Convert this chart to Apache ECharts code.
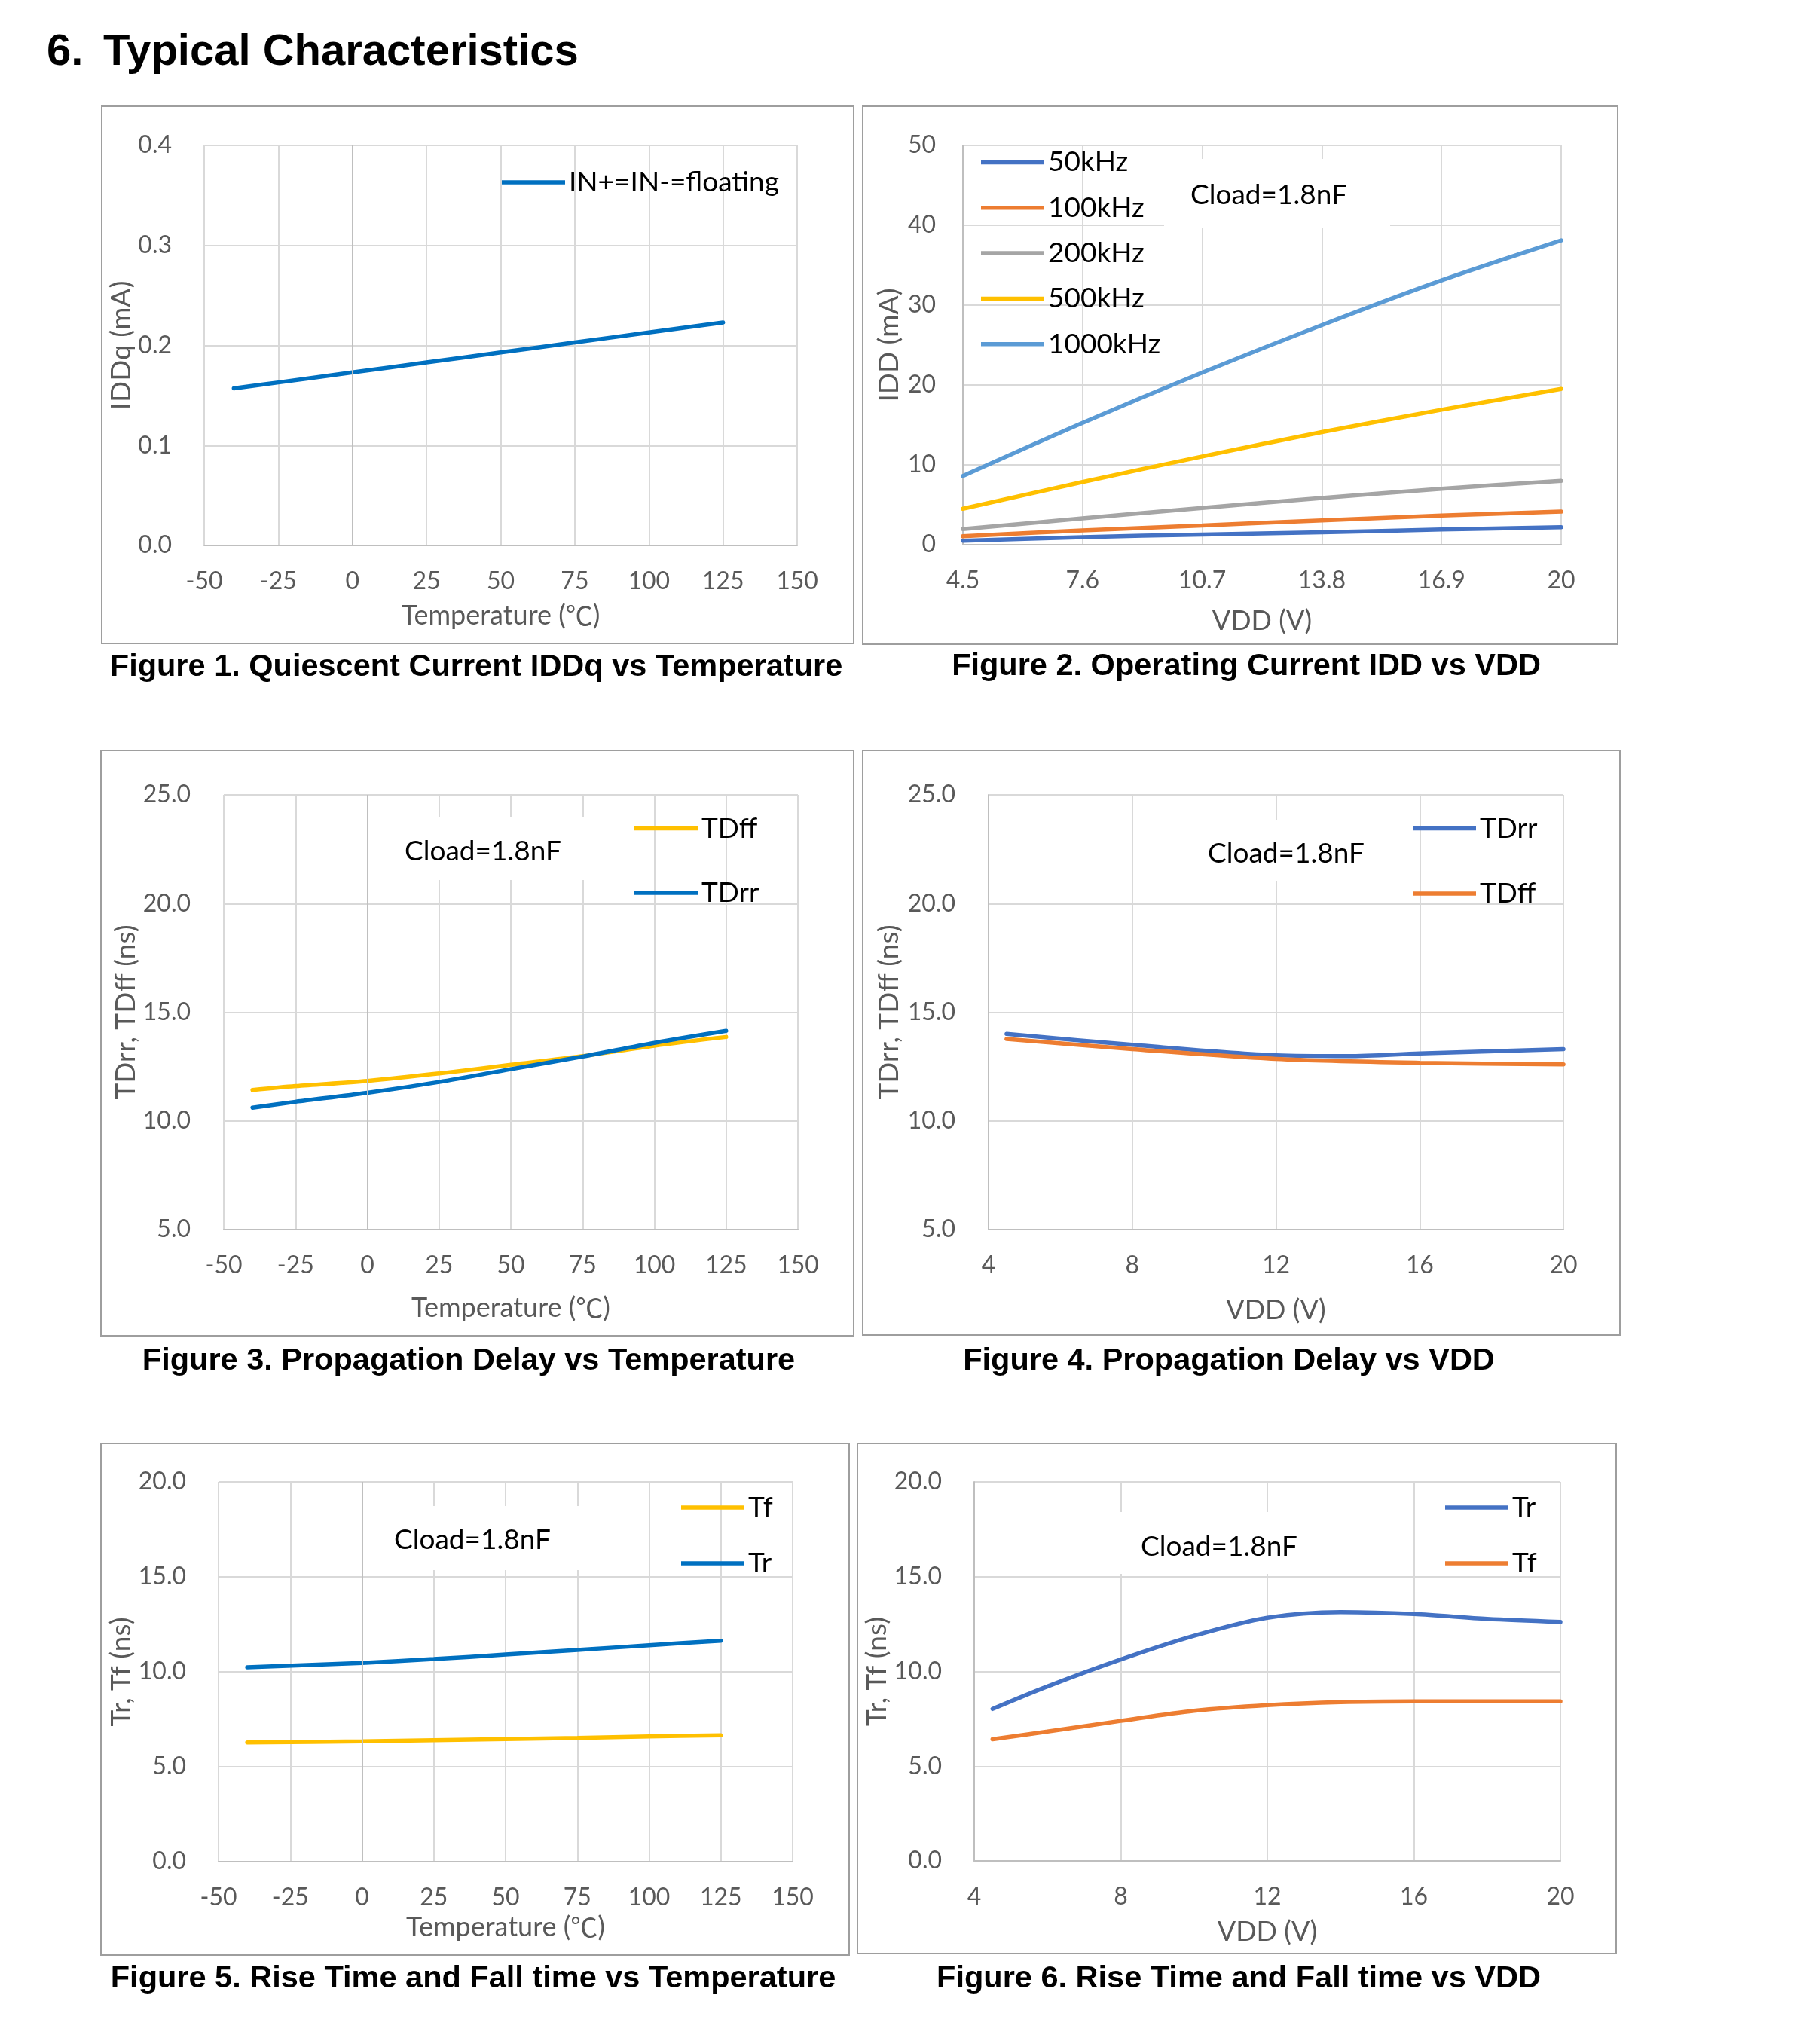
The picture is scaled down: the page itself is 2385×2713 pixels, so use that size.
<!DOCTYPE html>
<html><head><meta charset="utf-8">
<script src="https://cdn.jsdelivr.net/npm/echarts@6/dist/echarts.min.js"></script>
<style>html,body{margin:0;padding:0;background:#fff}#c{width:2385px;height:2713px}</style>
</head><body><div id="c"></div>
<script>
// ---------------- tick labels ----------------
const tempTicks = [-50, -25, 0, 25, 50, 75, 100, 125, 150];
const vddTicksFig2 = [4.5, 7.6, 10.7, 13.8, 16.9, 20];
const vddTicks = [4, 8, 12, 16, 20];
const iddqTicks = [0, 0.1, 0.2, 0.3, 0.4];
const iddTicks = [0, 10, 20, 30, 40, 50];
const tdTicks = [5, 10, 15, 20, 25];
const trTicks = [0, 5, 10, 15, 20];

// ---------------- Figure 1 ----------------
const fig1Temp = [-40, -25, 0, 25, 50, 75, 100, 125];
const fig1IDDq = [0.157, 0.163, 0.173, 0.183, 0.193, 0.203, 0.213, 0.223];

// ---------------- Figure 2 ----------------
const fig2VDD = [4.5, 7.6, 10.7, 13.8, 16.9, 20];
const fig2I50k = [0.5, 0.95, 1.28, 1.55, 1.9, 2.2];
const fig2I100k = [1.05, 1.8, 2.4, 3.05, 3.65, 4.15];
const fig2I200k = [1.95, 3.3, 4.6, 5.85, 7.0, 8.0];
const fig2I500k = [4.5, 7.85, 11.05, 14.1, 16.9, 19.5];
const fig2I1000k = [8.6, 15.25, 21.55, 27.5, 33.1, 38.1];

// ---------------- Figure 3 ----------------
const fig3Temp = [-40, -25, 0, 25, 50, 75, 100, 125];
const fig3TDff = [11.42, 11.6, 11.84, 12.18, 12.58, 12.98, 13.46, 13.86];
const fig3TDrr = [10.61, 10.88, 11.29, 11.79, 12.38, 12.96, 13.59, 14.14];

// ---------------- Figure 4 ----------------
const fig4VDDrr = [4.5, 8, 12, 14, 16, 20];
const fig4TDrr = [14.0, 13.5, 13.02, 12.98, 13.1, 13.3];
const fig4VDDff = [4.5, 8, 12, 16, 20];
const fig4TDff = [13.77, 13.3, 12.85, 12.67, 12.6];

// ---------------- Figure 5 ----------------
const fig5Temp = [-40, 0, 25, 50, 75, 100, 125];
const fig5Tr = [10.24, 10.47, 10.67, 10.91, 11.15, 11.4, 11.64];
const fig5Tf = [6.28, 6.34, 6.4, 6.46, 6.52, 6.6, 6.66];

// ---------------- Figure 6 ----------------
const fig6VDD = [4.5, 6, 8, 10, 12, 14, 16, 18, 20];
const fig6Tr = [8.02, 9.21, 10.63, 11.88, 12.83, 13.13, 13.03, 12.77, 12.61];
const fig6Tf = [6.42, 6.83, 7.39, 7.92, 8.22, 8.38, 8.42, 8.42, 8.42];

// ---------------- texts ----------------
const pageTitleNum = '6.';
const pageTitle = 'Typical Characteristics';
const captions = [
  'Figure 1. Quiescent Current IDDq vs Temperature',
  'Figure 2. Operating Current IDD vs VDD',
  'Figure 3. Propagation Delay vs Temperature',
  'Figure 4. Propagation Delay vs VDD',
  'Figure 5. Rise Time and Fall time vs Temperature',
  'Figure 6. Rise Time and Fall time vs VDD'
];
const cloadText = 'Cload=1.8nF';
const tempName = 'Temperature ({c|\u2103})';

// ================= build =================
const FONT = 'Lato, "Noto Sans CJK SC", sans-serif';
const GRAY = '#595959';
const pair = (xs, ys) => xs.map((x, i) => [x, ys[i]]);
const fmt1 = v => Number(v).toFixed(1);

const grids = [
  {left: 271, top: 193, width: 787, height: 531},
  {left: 1278, top: 193, width: 794, height: 530},
  {left: 297, top: 1055, width: 762, height: 577},
  {left: 1312, top: 1055, width: 763, height: 577},
  {left: 290, top: 1967, width: 762, height: 504},
  {left: 1293, top: 1967, width: 778, height: 503}
];

function xAx(i, ticks, name, gap, custom) {
  const a = {
    gridIndex: i, type: 'value', min: ticks[0], max: ticks[ticks.length - 1],
    name: name, nameLocation: 'middle', nameGap: gap,
    nameTextStyle: {fontFamily: FONT, fontSize: 36, color: GRAY, verticalAlign: 'middle',
      rich: {c: {fontFamily: '"Noto Sans CJK SC"', fontSize: 36, color: GRAY}}},
    axisLine: {show: true, onZero: false, lineStyle: {color: '#BFBFBF', width: 2}},
    axisTick: {show: false},
    axisLabel: {fontFamily: FONT, fontSize: 32, color: GRAY, margin: 48, verticalAlign: 'middle'},
    splitLine: {show: true, lineStyle: {color: '#D9D9D9', width: 2}}
  };
  if (custom) {
    a.axisTick.customValues = ticks;
    a.axisLabel.customValues = ticks;
  } else {
    a.interval = ticks[1] - ticks[0];
  }
  return a;
}
function yAx(i, ticks, name, gap, margin, formatter, showLine) {
  return {
    gridIndex: i, type: 'value', min: ticks[0], max: ticks[ticks.length - 1],
    interval: ticks[1] - ticks[0],
    name: name, nameLocation: 'middle', nameGap: gap,
    nameTextStyle: {fontFamily: FONT, fontSize: 37, color: GRAY, verticalAlign: 'middle'},
    axisLine: {show: !!showLine, onZero: false, lineStyle: {color: '#BFBFBF', width: 2}},
    axisTick: {show: false},
    axisLabel: {fontFamily: FONT, fontSize: 32, color: GRAY, margin: margin, formatter: formatter},
    splitLine: {show: true, lineStyle: {color: '#D9D9D9', width: 2}}
  };
}
function line(i, name, xs, ys, color) {
  return {
    type: 'line', name: name, xAxisIndex: i, yAxisIndex: i,
    data: pair(xs, ys), smooth: 0.3, symbol: 'none', showSymbol: false,
    lineStyle: {width: 5.5, color: color, cap: 'round'}, itemStyle: {color: color},
    z: 3, animation: false
  };
}
function zeroLine(i) {
  return {
    type: 'line', name: 'zero-axis-' + i, xAxisIndex: i, yAxisIndex: i, data: [], z: 1,
    markLine: {silent: true, symbol: ['none', 'none'], label: {show: false}, animation: false,
      lineStyle: {color: '#BFBFBF', width: 2, type: 'solid'}, emphasis: {disabled: true},
      data: [{xAxis: 0}]}
  };
}
function legend(left, top, gap, items) {
  return {
    left: left, top: top, orient: 'vertical', padding: 0, icon: 'rect',
    itemWidth: 84, itemHeight: 5.5, itemGap: gap, selectedMode: false,
    textStyle: {fontFamily: FONT, fontSize: 37, color: '#000', lineHeight: 40},
    data: items.map(it => ({name: it[0], itemStyle: {color: it[1], borderWidth: 0}}))
  };
}

const C = {blue: '#0070C0', yellow: '#FFC000', b2: '#4472C4', orange: '#ED7D31', grey: '#A5A5A5', lb: '#5B9BD5'};

const xAxes = [
  xAx(0, tempTicks, tempName, 93),
  xAx(1, vddTicksFig2, 'VDD (V)', 101, true),
  xAx(2, tempTicks, tempName, 104),
  xAx(3, vddTicks, 'VDD (V)', 107),
  xAx(4, tempTicks, tempName, 87),
  xAx(5, vddTicks, 'VDD (V)', 94)
];
const yAxes = [
  yAx(0, iddqTicks, 'IDDq (mA)', 103, 43, fmt1, false),
  yAx(1, iddTicks, 'IDD (mA)', 98, 36, v => String(v), true),
  yAx(2, tdTicks, 'TDrr, TDff (ns)', 128, 44, fmt1, false),
  yAx(3, tdTicks, 'TDrr, TDff (ns)', 132, 44, fmt1, true),
  yAx(4, trTicks, 'Tr, Tf (ns)', 121, 43, fmt1, false),
  yAx(5, trTicks, 'Tr, Tf (ns)', 120, 43, fmt1, true)
];

const series = [
  zeroLine(0), zeroLine(2), zeroLine(4),
  line(0, 'IN+=IN-=floating', fig1Temp, fig1IDDq, C.blue),
  line(1, '50kHz', fig2VDD, fig2I50k, C.b2),
  line(1, '100kHz', fig2VDD, fig2I100k, C.orange),
  line(1, '200kHz', fig2VDD, fig2I200k, C.grey),
  line(1, '500kHz', fig2VDD, fig2I500k, C.yellow),
  line(1, '1000kHz', fig2VDD, fig2I1000k, C.lb),
  line(2, 'TDff', fig3Temp, fig3TDff, C.yellow),
  line(2, 'TDrr', fig3Temp, fig3TDrr, C.blue),
  line(3, 'TDrr', fig4VDDrr, fig4TDrr, C.b2),
  line(3, 'TDff', fig4VDDff, fig4TDff, C.orange),
  line(4, 'Tf', fig5Temp, fig5Tf, C.yellow),
  line(4, 'Tr', fig5Temp, fig5Tr, C.blue),
  line(5, 'Tr', fig6VDD, fig6Tr, C.b2),
  line(5, 'Tf', fig6VDD, fig6Tf, C.orange)
];

const legends = [
  legend(666, 222, 20, [['IN+=IN-=floating', C.blue]]),
  legend(1302, 195.5, 20.3, [['50kHz', C.b2], ['100kHz', C.orange], ['200kHz', C.grey], ['500kHz', C.yellow], ['1000kHz', C.lb]]),
  legend(842, 1079.6, 45.4, [['TDff', C.yellow], ['TDrr', C.blue]]),
  legend(1875, 1079.6, 46.4, [['TDrr', C.b2], ['TDff', C.orange]]),
  legend(904, 1981, 34, [['Tf', C.yellow], ['Tr', C.blue]]),
  legend(1918, 1981, 34, [['Tr', C.b2], ['Tf', C.orange]])
];

function txt(x, y, text, size, weight, family, color, align) {
  return {type: 'text', x: x, y: y, z: 20, silent: true,
    style: {text: text, fontSize: size, fontWeight: weight, fontFamily: family, fill: color,
      align: align, verticalAlign: 'middle', textAlign: align, textVerticalAlign: 'middle'}};
}
function box(x1, y1, x2, y2) {
  return {type: 'rect', z: 0, silent: true, shape: {x: x1, y: y1, width: x2 - x1, height: y2 - y1},
    style: {fill: 'rgba(0,0,0,0)', stroke: '#9E9E9E', lineWidth: 2}};
}
function white(x1, y1, x2, y2) {
  return {type: 'rect', z: 10, silent: true, shape: {x: x1, y: y1, width: x2 - x1, height: y2 - y1},
    style: {fill: '#ffffff', stroke: null}};
}

const graphics = [
  txt(62, 69.5, pageTitleNum, 58, 'bold', 'Liberation Sans', '#000', 'left'),
  txt(137, 69.5, pageTitle, 58, 'bold', 'Liberation Sans', '#000', 'left'),
  box(135, 141, 1133, 854),
  box(1145, 141, 2147, 855),
  box(134, 996, 1133, 1773),
  box(1145, 996, 2150, 1772),
  box(134, 1916, 1127, 2595),
  box(1138, 1916, 2145, 2593),
  txt(632, 886, captions[0], 41.5, 'bold', 'Liberation Sans', '#000', 'center'),
  txt(1654, 885, captions[1], 41.5, 'bold', 'Liberation Sans', '#000', 'center'),
  txt(622, 1807, captions[2], 41.5, 'bold', 'Liberation Sans', '#000', 'center'),
  txt(1631, 1807, captions[3], 41.5, 'bold', 'Liberation Sans', '#000', 'center'),
  txt(628, 2627, captions[4], 41.5, 'bold', 'Liberation Sans', '#000', 'center'),
  txt(1644, 2627, captions[5], 41.5, 'bold', 'Liberation Sans', '#000', 'center'),
  white(1545, 211, 1845, 302),
  white(503, 1085, 803, 1168),
  white(1568, 1088, 1868, 1170),
  white(490, 1999, 790, 2084),
  white(1470, 2007, 1780, 2089),
  txt(1580, 259, cloadText, 37, 'normal', FONT, '#000', 'left'),
  txt(537, 1130.5, cloadText, 37, 'normal', FONT, '#000', 'left'),
  txt(1603, 1133, cloadText, 37, 'normal', FONT, '#000', 'left'),
  txt(523, 2044, cloadText, 37, 'normal', FONT, '#000', 'left'),
  txt(1514, 2053, cloadText, 37, 'normal', FONT, '#000', 'left')
];

const chart = echarts.init(document.getElementById('c'), null, {renderer: 'canvas', width: 2385, height: 2713});
chart.setOption({
  backgroundColor: '#ffffff',
  animation: false,
  grid: grids,
  xAxis: xAxes,
  yAxis: yAxes,
  legend: legends,
  series: series,
  graphic: {elements: graphics}
});
</script></body></html>
